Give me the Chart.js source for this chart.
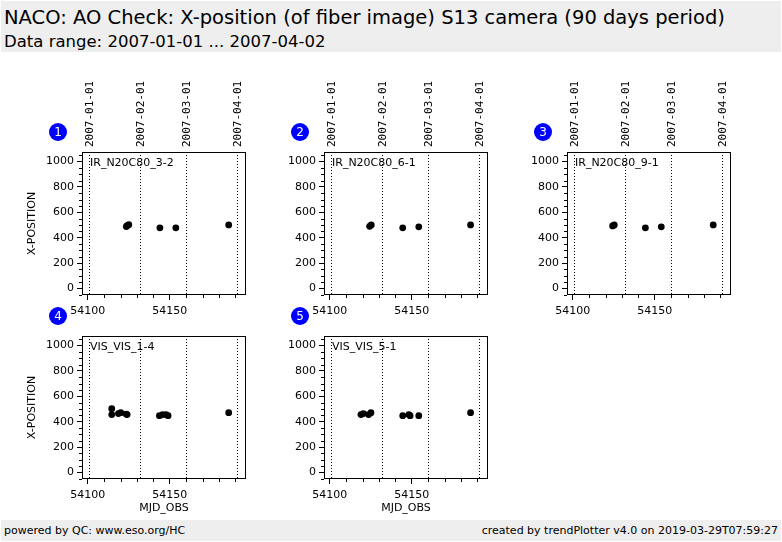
<!DOCTYPE html>
<html lang="en">
<head>
<meta charset="UTF-8" />
<title>NACO: AO Check</title>
<script src="https://cdn.jsdelivr.net/npm/chart.js@4"></script>
<style>
  body { margin: 0; width: 782px; height: 542px; position: relative; overflow: hidden; background: #fff;
         font-family: 'DejaVu Sans', sans-serif; color: #000; }
  .band { position: absolute; left: 1px; width: 780px; background: #eeeeee; }
  #head { top: 1px; height: 51px; }
  #head .t1 { position: absolute; left: 3px; top: 5px; font-size: 19.5px; white-space: nowrap; }
  #head .t2 { position: absolute; left: 3px; top: 31px; font-size: 16.5px; white-space: nowrap; }
  #foot { top: 520px; height: 21px; font-size: 11px; }
  #foot span { position: absolute; top: 4px; white-space: nowrap; }
  canvas { position: absolute; }
  .num { position: absolute; width: 18px; height: 18px; border-radius: 50%; background: #0000ff; color: #fff;
         font-size: 12px; line-height: 18px; text-align: center; z-index: 5; }
</style>
</head>
<body>
<div id="head" class="band">
  <div class="t1">NACO: AO Check: X-position (of fiber image) S13 camera (90 days period)</div>
  <div class="t2">Data range: 2007-01-01 ... 2007-04-02</div>
</div>
<div id="foot" class="band">
  <span style="left:3px">powered by QC: www.eso.org/HC</span>
  <span style="right:3px">created by trendPlotter v4.0 on 2019-03-29T07:59:27</span>
</div>

<script>
// ---- data ----
const panelNames = ['IR_N20C80_3-2', 'IR_N20C80_6-1', 'IR_N20C80_9-1', 'VIS_VIS_1-4', 'VIS_VIS_5-1'];

const mjd1 = [54123.5, 54124.0, 54125.0, 54144.0, 54153.7, 54186.0];
const xpos1 = [488, 495, 503, 478, 478, 501];

const mjd2 = [54124.3, 54125.3, 54144.5, 54154.3, 54185.9];
const xpos2 = [490, 501, 478, 486, 501];

const mjd3 = [54124.3, 54125.3, 54144.3, 54154.0, 54185.7];
const xpos3 = [493, 501, 478, 486, 501];

const mjd4 = [54114.6, 54114.6, 54118.7, 54120.1, 54123.4, 54124.0, 54143.7, 54145.7, 54147.8, 54149.0, 54186.0];
const xpos4 = [503, 456, 464, 471, 460, 456, 448, 456, 456, 448, 471];

const mjd5 = [54119.0, 54120.5, 54123.7, 54125.1, 54144.5, 54148.2, 54149.0, 54154.3, 54185.9];
const xpos5 = [456, 464, 456, 471, 448, 456, 448, 448, 471];

// month boundaries (MJD) and their date labels on the top axis
const monthMjd = [54101, 54132, 54160, 54191];
const monthLabels = ['2007-01-01', '2007-02-01', '2007-03-01', '2007-04-01'];

const xTicks = [54100, 54150];
const xMinorTicks = [54110, 54120, 54130, 54140, 54160, 54170, 54180, 54190];
const yTicks = [0, 200, 400, 600, 800, 1000];
const yMinorTicks = [-50, 50, 100, 150, 250, 300, 350, 450, 500, 550, 650, 700, 750, 850, 900, 950, 1050];
const xRange = [54096.45, 54196.55];
const yRange = [-51.2, 1075.2];

const mjdSets = [mjd1, mjd2, mjd3, mjd4, mjd5];
const xposSets = [xpos1, xpos2, xpos3, xpos4, xpos5];

// ---- layout ----
const colLeft = [82, 324, 567];
const rowTop = [152, 336];
const PW = 164, PH = 143;       // plot box
const AX_L = 70, AX_T = 76, AX_B = 46, PAD_R = 10;

const tickFont = { family: 'DejaVu Sans', size: 11 };

// dotted month lines, minor ticks, frame and panel name
const panelDecor = {
  id: 'panelDecor',
  beforeDatasetsDraw(chart, args, opts) {
    const { ctx, chartArea: a, scales: { x, y } } = chart;
    ctx.save();
    ctx.strokeStyle = '#000';
    ctx.lineWidth = 1;
    ctx.setLineDash([1, 2]);
    monthMjd.forEach(v => {
      const px = Math.round(x.getPixelForValue(v)) + 0.5;
      ctx.beginPath();
      ctx.moveTo(px, a.top);
      ctx.lineTo(px, a.bottom);
      ctx.stroke();
    });
    ctx.setLineDash([]);
    ctx.beginPath();
    xMinorTicks.forEach(v => {
      const px = Math.round(x.getPixelForValue(v)) + 0.5;
      ctx.moveTo(px, a.bottom);
      ctx.lineTo(px, a.bottom + 3);
    });
    yMinorTicks.forEach(v => {
      const py = Math.round(y.getPixelForValue(v)) + 0.5;
      ctx.moveTo(a.left, py);
      ctx.lineTo(a.left - 3, py);
    });
    ctx.stroke();
    ctx.strokeRect(a.left + 0.5, a.top + 0.5, a.right - a.left - 1, a.bottom - a.top - 1);
    ctx.fillStyle = '#000';
    ctx.font = '11px "DejaVu Sans"';
    ctx.textBaseline = 'middle';
    ctx.fillText(opts.name, a.left + 8, a.top + 11);
    ctx.restore();
  }
};

function makePanel(i) {
  const col = i % 3, row = Math.floor(i / 3);
  const canvas = document.createElement('canvas');
  const w = AX_L + PW + PAD_R, h = AX_T + PH + AX_B;
  canvas.width = w;
  canvas.height = h;
  canvas.style.left = (colLeft[col] - AX_L) + 'px';
  canvas.style.top = (rowTop[row] - AX_T) + 'px';
  canvas.style.width = w + 'px';
  canvas.style.height = h + 'px';
  document.body.appendChild(canvas);

  const num = document.createElement('div');
  num.className = 'num';
  num.textContent = String(i + 1);
  num.style.left = (colLeft[col] - 33) + 'px';
  num.style.top = (rowTop[row] - 29) + 'px';
  document.body.appendChild(num);

  const points = mjdSets[i].map((m, k) => ({ x: m, y: xposSets[i][k] }));

  new Chart(canvas, {
    type: 'scatter',
    data: {
      datasets: [{
        data: points,
        pointRadius: 3.4,
        pointHoverRadius: 3.4,
        backgroundColor: '#000',
        borderWidth: 0
      }]
    },
    options: {
      responsive: false,
      animation: false,
      events: [],
      layout: { padding: { left: 0, top: 0, right: PAD_R, bottom: 0 } },
      plugins: {
        legend: { display: false },
        tooltip: { enabled: false },
        panelDecor: { name: panelNames[i] }
      },
      scales: {
        x: {
          type: 'linear', position: 'bottom', min: xRange[0], max: xRange[1],
          afterBuildTicks: s => { s.ticks = xTicks.map(v => ({ value: v })); },
          afterFit: s => { s.height = AX_B; },
          grid: { drawOnChartArea: false, tickLength: 5, color: '#000' },
          border: { display: false },
          ticks: { font: tickFont, color: '#000', padding: 5, autoSkip: false, maxRotation: 0,
                   callback: v => String(v) },
          title: { display: row === 1, text: 'MJD_OBS', font: tickFont, color: '#000',
                   padding: { top: 0, bottom: 10 } }
        },
        x2: {
          type: 'linear', position: 'top', min: xRange[0], max: xRange[1],
          afterBuildTicks: s => { s.ticks = monthMjd.map(v => ({ value: v })); },
          afterFit: s => { s.height = AX_T; },
          grid: { display: false, drawTicks: false },
          border: { display: false },
          ticks: { display: row === 0, font: { family: 'DejaVu Sans Mono', size: 11 }, color: '#000',
                   minRotation: 90, maxRotation: 90, padding: 5, labelOffset: 14, autoSkip: false,
                   callback: (v, k) => monthLabels[k] }
        },
        y: {
          type: 'linear', position: 'left', min: yRange[0], max: yRange[1],
          afterBuildTicks: s => { s.ticks = yTicks.map(v => ({ value: v })); },
          afterFit: s => { s.width = AX_L; },
          grid: { drawOnChartArea: false, tickLength: 5, color: '#000' },
          border: { display: false },
          ticks: { font: tickFont, color: '#000', padding: 3, callback: v => String(v) },
          title: { display: col === 0, text: 'X-POSITION', font: tickFont, color: '#000',
                   padding: { top: 14, bottom: 0 } }
        }
      }
    },
    plugins: [panelDecor]
  });
}

for (let i = 0; i < panelNames.length; i++) makePanel(i);
</script>
</body>
</html>
